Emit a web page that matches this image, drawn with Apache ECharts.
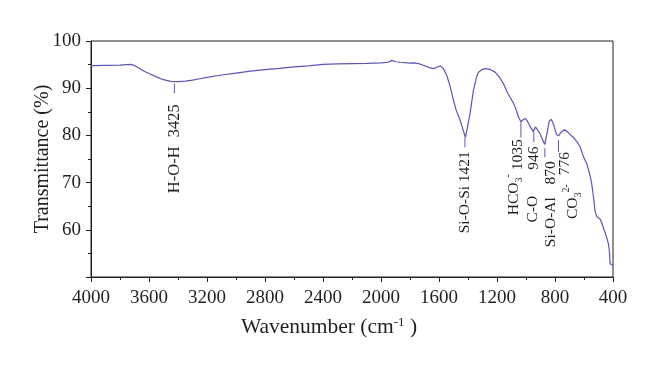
<!DOCTYPE html>
<html>
<head>
<meta charset="utf-8">
<script src="https://cdn.jsdelivr.net/npm/echarts@6/dist/echarts.min.js"></script>
<style>
html,body{margin:0;padding:0;background:#fff;}
#chart{width:660px;height:366px;}
</style>
</head>
<body>
<div id="chart"></div>
<script>
// ---- data ----
const wavenumbers = [4000,3900,3800,3750,3720,3680,3640,3600,3550,3500,3450,3400,3350,3300,3250,3200,3100,3000,2900,2800,2700,2600,2500,2400,2300,2200,2100,2000,1950,1925,1900,1868,1800,1776,1740,1709,1670,1638,1610,1592,1570,1546,1520,1500,1480,1454,1430,1418,1405,1386,1363,1340,1328,1300,1282,1250,1213,1185,1156,1130,1110,1090,1075,1050,1035,1020,1006,990,970,950,935,926,905,885,870,855,840,825,810,790,776,760,735,715,690,673,650,627,605,581,558,547,535,524,512,500,489,478,471,462,455,443,432,425,420,410,400];
const transmittance = [94.8,94.85,94.9,95.0,95.05,94.5,93.7,93.1,92.4,91.8,91.45,91.4,91.5,91.7,92.0,92.3,92.8,93.2,93.6,93.95,94.2,94.5,94.75,95.05,95.15,95.2,95.25,95.35,95.5,95.9,95.6,95.5,95.3,95.35,95.2,94.85,94.4,94.15,94.5,94.75,94.2,92.7,90.0,87.4,85.2,83.2,80.8,79.6,81.5,84.6,89.5,92.5,93.4,94.0,94.15,94.0,93.4,92.4,91.0,89.2,88.1,87.0,86.0,83.8,82.9,83.3,83.6,83.0,81.8,80.8,81.8,81.9,80.5,79.0,78.1,80.5,83.0,83.4,82.3,80.2,79.9,80.6,81.2,80.8,80.0,79.6,78.7,77.6,75.6,74.0,71.5,69.8,67.0,64.0,62.8,62.4,62.3,61.5,61.2,60.0,59.5,58.3,57.1,55.5,52.8,52.6,52.5];

const xTicks = [4000,3600,3200,2800,2400,2000,1600,1200,800,400];
const yTicks = [60,70,80,90,100];

// annotations
const annWn = [3425, 1421, 1035, 946, 870, 776];
const annTickTop = [91.0, 79.6, 82.8, 80.7, 77.3, 79.0];
const annNumber = ['3425', '1421', '1035', '946', '870', '776'];
const annFormula = ['H-O-H', 'Si-O-Si', '{n|HCO}{sub|3}{sup|-}', 'C-O', 'Si-O-Al', '{n|CO}{sub|3}{sup|2-}'];

// annotation layout (pixels): [tickLen, numDy, numDx, formDy, formDx, fontSize]
const annLayout = [
  [10, 20.7, 0, 109.7, 0, 16.5],
  [10, 14, 0, 96, 0, 15.5],
  [15, 17, -3, 93, -7, 15.5],
  [10, 14.3, 0, 90.3, -1, 15.5],
  [9, 13, 6, 99, 6, 15.5],
  [12, 12, 6, 79, 14, 15.5]
];

const series = wavenumbers.map((w, i) => [w, transmittance[i]]);
const annData = annWn.map((w, i) => [w, annTickTop[i], i]);

const ink = '#231f20';
const lineColor = '#5a56b8';
const serif = '"Liberation Serif", "DejaVu Serif", serif';

const chart = echarts.init(document.getElementById('chart'), null, {renderer: 'canvas'});
chart.setOption({
  animation: false,
  backgroundColor: '#fff',
  grid: {left: 91, right: 47, top: 41, bottom: 89, show: true, borderColor: ink, borderWidth: 1, outerBoundsMode: 'none'},
  xAxis: {
    type: 'value', inverse: true, min: 400, max: 4000, interval: 400,
    name: 'Wavenumber (cm{sup|-1} )', nameLocation: 'middle', nameGap: 39, nameMoveOverlap: false,
    nameTextStyle: {fontFamily: serif, fontSize: 21.5, color: ink, padding: [0, 46, 0, 0],
      rich: {sup: {fontFamily: serif, fontSize: 13, color: ink, verticalAlign: 'top', padding: [0,0,9,0]}}},
    axisLine: {show: true, lineStyle: {color: ink, width: 1}},
    axisTick: {show: true, inside: false, length: 5, lineStyle: {color: ink}},
    minorTick: {show: true, splitNumber: 2, length: 3, lineStyle: {color: ink}},
    axisLabel: {fontFamily: serif, fontSize: 19, color: ink, margin: 12,
      formatter: v => xTicks.includes(v) ? String(v) : ''},
    splitLine: {show: false}
  },
  yAxis: {
    type: 'value', min: 50, max: 100, interval: 10,
    name: 'Transmittance (%)', nameLocation: 'middle', nameGap: 38, nameMoveOverlap: false,
    nameTextStyle: {fontFamily: serif, fontSize: 20, color: ink},
    axisLine: {show: true, lineStyle: {color: ink, width: 1}},
    axisTick: {show: true, inside: false, length: 5, lineStyle: {color: ink}},
    minorTick: {show: true, splitNumber: 2, length: 3, lineStyle: {color: ink}},
    axisLabel: {fontFamily: serif, fontSize: 19, color: ink, margin: 10,
      formatter: v => yTicks.includes(v) ? String(v) : ''},
    splitLine: {show: false}
  },
  series: [
    {
      type: 'line', data: series, showSymbol: false, symbol: 'none',
      lineStyle: {color: lineColor, width: 1.2}, smooth: false, z: 3
    },
    {
      type: 'custom', data: annData, z: 4, clip: false,
      renderItem: function (params, api) {
        const idx = api.value(2);
        const L = annLayout[idx];
        const p = api.coord([api.value(0), api.value(1)]);
        const fs = L[5];
        return {
          type: 'group',
          children: [
            {type: 'line', shape: {x1: p[0], y1: p[1], x2: p[0], y2: p[1] + L[0]},
             style: {stroke: lineColor, lineWidth: 1}},
            {type: 'text', x: p[0] + L[2], y: p[1] + L[1], rotation: Math.PI / 2,
             style: {text: annNumber[idx], x: 0, y: 0, align: 'right', verticalAlign: 'middle',
                     fontFamily: serif, fontSize: fs, fill: ink}},
            {type: 'text', x: p[0] + L[4], y: p[1] + L[3], rotation: Math.PI / 2,
             style: {text: annFormula[idx], x: 0, y: 0, align: 'left', verticalAlign: 'middle',
                     fontFamily: serif, fontSize: fs, fill: ink,
                     rich: {
                       n: {fontFamily: serif, fontSize: fs, fill: ink, lineHeight: fs + 6},
                       sub: {fontFamily: serif, fontSize: fs * 0.65, fill: ink, verticalAlign: 'bottom'},
                       sup: {fontFamily: serif, fontSize: fs * 0.65, fill: ink, verticalAlign: 'top'}
                     }}}
          ]
        };
      }
    }
  ]
});
</script>
</body>
</html>
